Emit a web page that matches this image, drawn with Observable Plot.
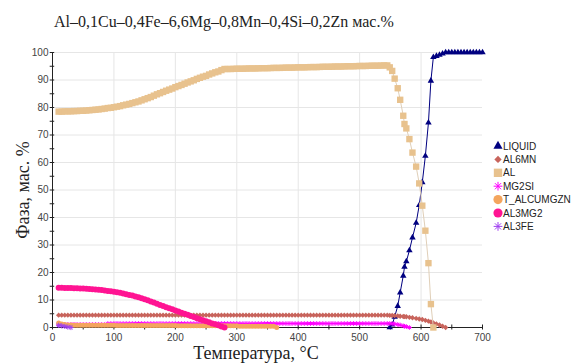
<!DOCTYPE html>
<html><head><meta charset="utf-8">
<script src="https://cdn.jsdelivr.net/npm/d3@7"></script>
<script src="https://cdn.jsdelivr.net/npm/@observablehq/plot@0.6"></script>
<style>
html,body{margin:0;padding:0;background:#fff;}
#wrap{position:relative;width:584px;height:363px;overflow:hidden;}
#overlay{position:absolute;left:0;top:0;pointer-events:none;}
</style></head>
<body><div id="wrap"></div>
<script>
// ---- data ----
const tLow = [10,15,20,25,30,35,40,45,50,55,
  60,65,70,75,80,85,90,95,100,105,
  110,115,120,125,130,135,140,145,150,155,
  160,165,170,175,180,185,190,195,200,205,
  210,215,220,225,230,235,240,245,250,255,
  260,265,270,275,280,285,290,295,300,305,
  310,315,320,325,330,335,340,345,350,355,
  360,365,370,375,380,385,390,395,400,405,
  410,415,420,425,430,435,440,445,450,455,
  460,465,470,475,480,485,490,495,500,505,
  510,515,520,525,530,535,540,545];
const tMelt = [549,553,557,562,566,571,573,576,581,586,592,597,602,607,612,616,620];
const tHigh = [625,630,635,640,645,650,655,660,665,670,675,680,685,690,695,700];

const liquidV = [0,1.0,3.9,7.8,12.7,18.8,22,24,28,32.7,38,44.5,52.8,62.4,74.5,89.7,98.3,
  98.7,99.1,99.55,100,100,100,100,100,100,100,100,100,100,100,100,100];

const al6mnV = [4.5,4.5,4.5,4.5,4.5,4.5,4.5,4.5,4.5,4.5,
  4.5,4.5,4.5,4.5,4.5,4.5,4.5,4.5,4.5,4.5,
  4.5,4.5,4.5,4.5,4.5,4.5,4.5,4.5,4.5,4.5,
  4.5,4.5,4.5,4.5,4.5,4.5,4.5,4.5,4.5,4.5,
  4.5,4.5,4.5,4.5,4.5,4.5,4.5,4.5,4.5,4.5,
  4.5,4.5,4.5,4.5,4.5,4.5,4.5,4.5,4.5,4.5,
  4.5,4.5,4.5,4.5,4.5,4.5,4.5,4.5,4.5,4.5,
  4.5,4.5,4.5,4.5,4.5,4.5,4.5,4.5,4.5,4.5,
  4.5,4.5,4.5,4.5,4.5,4.5,4.5,4.5,4.5,4.5,
  4.5,4.5,4.5,4.5,4.5,4.5,4.5,4.5,4.5,4.5,
  4.5,4.5,4.5,4.5,4.5,4.5,4.5,4.5,
  4.4,4.35,4.3,4.2,4.1,4.0,3.95,3.9,3.7,3.55,3.3,3.1,2.9,2.6,2.3,2.0,1.7,
  1.3,0.9,0.45,0];
const al6mnT = [...tLow, ...tMelt, 625, 630, 635, 640];

const alV = [78.5,78.5,78.6,78.6,78.6,78.7,78.7,78.8,78.8,78.9,
  79.0,79.1,79.2,79.3,79.45,79.6,79.8,79.9,80.1,80.3,
  80.5,80.8,81.05,81.3,81.6,81.9,82.2,82.6,83.0,83.4,
  83.8,84.3,84.8,85.2,85.65,86.1,86.5,86.9,87.4,87.8,
  88.2,88.65,89.1,89.5,89.9,90.4,90.8,91.2,91.5,92.0,
  92.4,92.8,93.1,93.6,94.0,94.0,94.0,94.05,94.1,94.1,
  94.1,94.15,94.2,94.2,94.2,94.25,94.3,94.3,94.3,94.35,
  94.4,94.4,94.4,94.45,94.5,94.5,94.5,94.55,94.6,94.6,
  94.6,94.65,94.7,94.7,94.7,94.75,94.8,94.8,94.8,94.85,
  94.9,94.9,94.9,94.95,95.0,95.0,95.0,95.05,95.1,95.1,
  95.1,95.15,95.2,95.2,95.2,95.25,95.3,95.3,
  94.6,93.3,90.5,87,82.8,77,74,72.4,68.5,63.6,58.5,52.4,44.3,35.2,23.4,8.5,0];

const mg2siV = [1.1,1.1,1.1,1.1,1.1,1.1,1.1,1.1,1.1,1.1,
  1.1,1.1,1.1,1.1,1.1,1.1,1.45,1.45,1.45,1.45,
  1.45,1.45,1.45,1.45,1.45,1.45,1.45,1.45,1.45,1.45,
  1.45,1.45,1.45,1.45,1.45,1.45,1.45,1.45,1.45,1.45,
  1.45,1.45,1.45,1.45,1.45,1.45,1.45,1.45,1.45,1.45,
  1.45,1.45,1.45,1.45,1.45,1.45,1.45,1.45,1.45,1.45,
  1.45,1.45,1.45,1.45,1.45,1.45,1.45,1.45,1.45,1.45,
  1.45,1.45,1.45,1.45,1.45,1.45,1.45,1.45,1.45,1.45,
  1.45,1.45,1.45,1.45,1.45,1.45,1.45,1.45,1.45,1.45,
  1.45,1.45,1.45,1.45,1.45,1.45,1.45,1.45,1.45,1.45,
  1.45,1.45,1.45,1.45,1.45,1.45,1.45,1.45,
  1.45,1.4,1.3,1.1,0.9,0.6,0.45,0.3,0];
const mg2siT = [...tLow, 549,553,557,562,566,571,573,576,581];

const alcumgznV = [1.6,1.3,1.05,0.95,0.9,0.85,0.85,0.85,0.85,0.85,
  0.85,0.85,0.85,0.85,0.85,0.85,0.85,0.85,0.85,0.75,
  0.75,0.75,0.75,0.75,0.75,0.75,0.75,0.75,0.75,0.75,
  0.75,0.75,0.75,0.75,0.75,0.75,0.75,0.75,0.75,0.6,
  0.6,0.6,0.6,0.6,0.6,0.6,0.6,0.6,0.6,0.6,
  0.6,0.6,0.6,0.6,0.6,0.6,0.6,0.6,0.6,0.5,
  0.5,0.5,0.5,0.5,0.5,0.5,0.5,0.5,0.5,0.5,
  0.5,0];

const al3mg2V = [14.5,14.5,14.4,14.4,14.4,14.3,14.3,14.2,14.2,14.1,
  14.0,13.9,13.8,13.7,13.6,13.45,13.3,13.15,13.0,12.8,
  12.6,12.35,12.1,11.85,11.6,11.3,11.0,10.65,10.3,9.9,
  9.5,9.05,8.6,8.2,7.8,7.4,7.0,6.6,6.2,5.8,
  5.4,5.0,4.6,4.2,3.8,3.4,3.0,2.65,2.3,1.9,
  1.5,1.15,0.8,0.4,0];

const al3feV = [0.8,0.6,0.4,0.15,0];

const xTicks = [0,100,200,300,400,500,600,700];
const xMinor = [50,150,250,350,450,550,650];
const xGrid = [100,200,300,400,500,600];
const yTicks = [0,10,20,30,40,50,60,70,80,90,100];
const yMinor = [5,15,25,35,45,55,65,75,85,95];
const yGrid = [10,20,30,40,50,60,70,80,90,100];

const title = "Al–0,1Cu–0,4Fe–6,6Mg–0,8Mn–0,4Si–0,2Zn мас.%";
const xLabel = "Температура, °C";
const yLabel = "Фаза, мас. %";

// ---- symbols ----
const asterisk8 = {
  draw(ctx, size) {
    const r = Math.sqrt(size / Math.PI);
    for (const a of [0, Math.PI / 4, Math.PI / 2, 3 * Math.PI / 4]) {
      const dx = r * Math.cos(a), dy = r * Math.sin(a);
      ctx.moveTo(-dx, -dy); ctx.lineTo(dx, dy);
    }
  }
};

const zip = (T, V) => T.map((t, i) => ({T: t, v: V[i]}));

const series = [
  {name: "LIQUID", data: zip([...tMelt, ...tHigh], liquidV), color: "#000080", symbol: d3.symbolTriangle, r: 2.4, line: "#000080", lineOpacity: 1, filled: true, lsize: 36},
  {name: "AL6MN", data: zip(al6mnT, al6mnV), color: "#c8645c", symbol: d3.symbolDiamond2, r: 2.4, line: "#c8645c", lineOpacity: 1, filled: true, lsize: 34},
  {name: "AL", data: zip([...tLow, ...tMelt], alV), color: "#e8c28e", symbol: d3.symbolSquare, r: 3.6, line: "#e0cfb8", lineOpacity: 1, filled: true, lsize: 70},
  {name: "MG2SI", data: zip(mg2siT, mg2siV), color: "#ff00ff", symbol: asterisk8, r: 2.3, line: "#ff00ff", lineOpacity: 1, filled: false, lsize: 60},
  {name: "T_ALCUMGZN", data: zip(tLow.slice(0, 72), alcumgznV), color: "#f4a55e", symbol: d3.symbolCircle, r: 2.5, line: "#f4a55e", lineOpacity: 1, filled: true, lsize: 66},
  {name: "AL3MG2", data: zip(tLow.slice(0, 55), al3mg2V), color: "#ff1493", symbol: d3.symbolCircle, r: 3, line: "#ff1493", lineOpacity: 1, filled: true, lsize: 66},
  {name: "AL3FE", data: zip(tLow.slice(0, 5), al3feV), color: "#a040f0", symbol: asterisk8, r: 2.6, line: "#a040f0", lineOpacity: 1, filled: false, lsize: 60}
];

const marks = [
  Plot.gridX({ticks: xGrid, stroke: "#e6e6e6", strokeOpacity: 1}),
  Plot.gridY({ticks: yGrid, stroke: "#e6e6e6", strokeOpacity: 1}),
  Plot.axisY({ticks: yTicks, tickSize: 0, tickPadding: 4, fontSize: 10, color: "#444", label: null, fontFamily: "Liberation Sans, Arial, sans-serif"}),
  Plot.axisX({ticks: xTicks, tickSize: 0, tickPadding: 6, fontSize: 10, color: "#444", label: null, fontFamily: "Liberation Sans, Arial, sans-serif"}),
  Plot.axisY({ticks: [...yTicks, ...yMinor], tickSize: 4.5, dx: 2.2, tickFormat: () => "", color: "#222", label: null}),
  Plot.axisX({ticks: [...xTicks, ...xMinor], tickSize: 5, dy: -2.5, tickFormat: () => "", color: "#222", label: null}),
  Plot.ruleX([0], {stroke: "#222"}),
  Plot.ruleY([0], {stroke: "#222"})
];
for (const s of series) {
  marks.push(Plot.line(s.data, {x: "T", y: "v", stroke: s.line, strokeOpacity: s.lineOpacity, strokeWidth: 1}));
  marks.push(Plot.dot(s.data, s.filled
    ? {x: "T", y: "v", symbol: s.symbol, r: s.r, fill: s.color, stroke: "none"}
    : {x: "T", y: "v", symbol: s.symbol, r: s.r, fill: "none", stroke: s.color, strokeWidth: 1}));
}

const chart = Plot.plot({
  width: 584, height: 363,
  marginTop: 52, marginBottom: 36, marginLeft: 52, marginRight: 102,
  x: {domain: [0, 700]},
  y: {domain: [0, 100]},
  style: {background: "white", overflow: "visible"},
  marks
});
const wrap = document.getElementById("wrap");
wrap.appendChild(chart);

// ---- overlay: title, axis labels, legend ----
const ov = d3.select(wrap).append("svg").attr("id", "overlay").attr("width", 584).attr("height", 363);
ov.append("text").attr("x", 54).attr("y", 26.5)
  .attr("font-family", "Liberation Serif, Times New Roman, serif").attr("font-size", 16).attr("fill", "#222").text(title);
ov.append("text").attr("x", 256).attr("y", 359).attr("text-anchor", "middle")
  .attr("font-family", "Liberation Serif, Times New Roman, serif").attr("font-size", 18).attr("fill", "#222").text(xLabel);
ov.append("text").attr("transform", "translate(29,190) rotate(-90)").attr("text-anchor", "middle")
  .attr("font-family", "Liberation Serif, Times New Roman, serif").attr("font-size", 18).attr("fill", "#222").text(yLabel);

const lg = ov.append("g").attr("transform", "translate(498,146)");
series.forEach((s, i) => {
  const g = lg.append("g").attr("transform", `translate(0,${i * 13.4})`);
  const p = g.append("path").attr("d", d3.symbol(s.symbol, s.lsize)());
  if (s.filled) p.attr("fill", s.color); else p.attr("fill", "none").attr("stroke", s.color).attr("stroke-width", 1);
  g.append("text").attr("x", 5).attr("y", 3.6)
    .attr("font-family", "Liberation Sans, Arial, sans-serif").attr("font-size", 10).attr("fill", "#222").text(s.name);
});
</script></body></html>
